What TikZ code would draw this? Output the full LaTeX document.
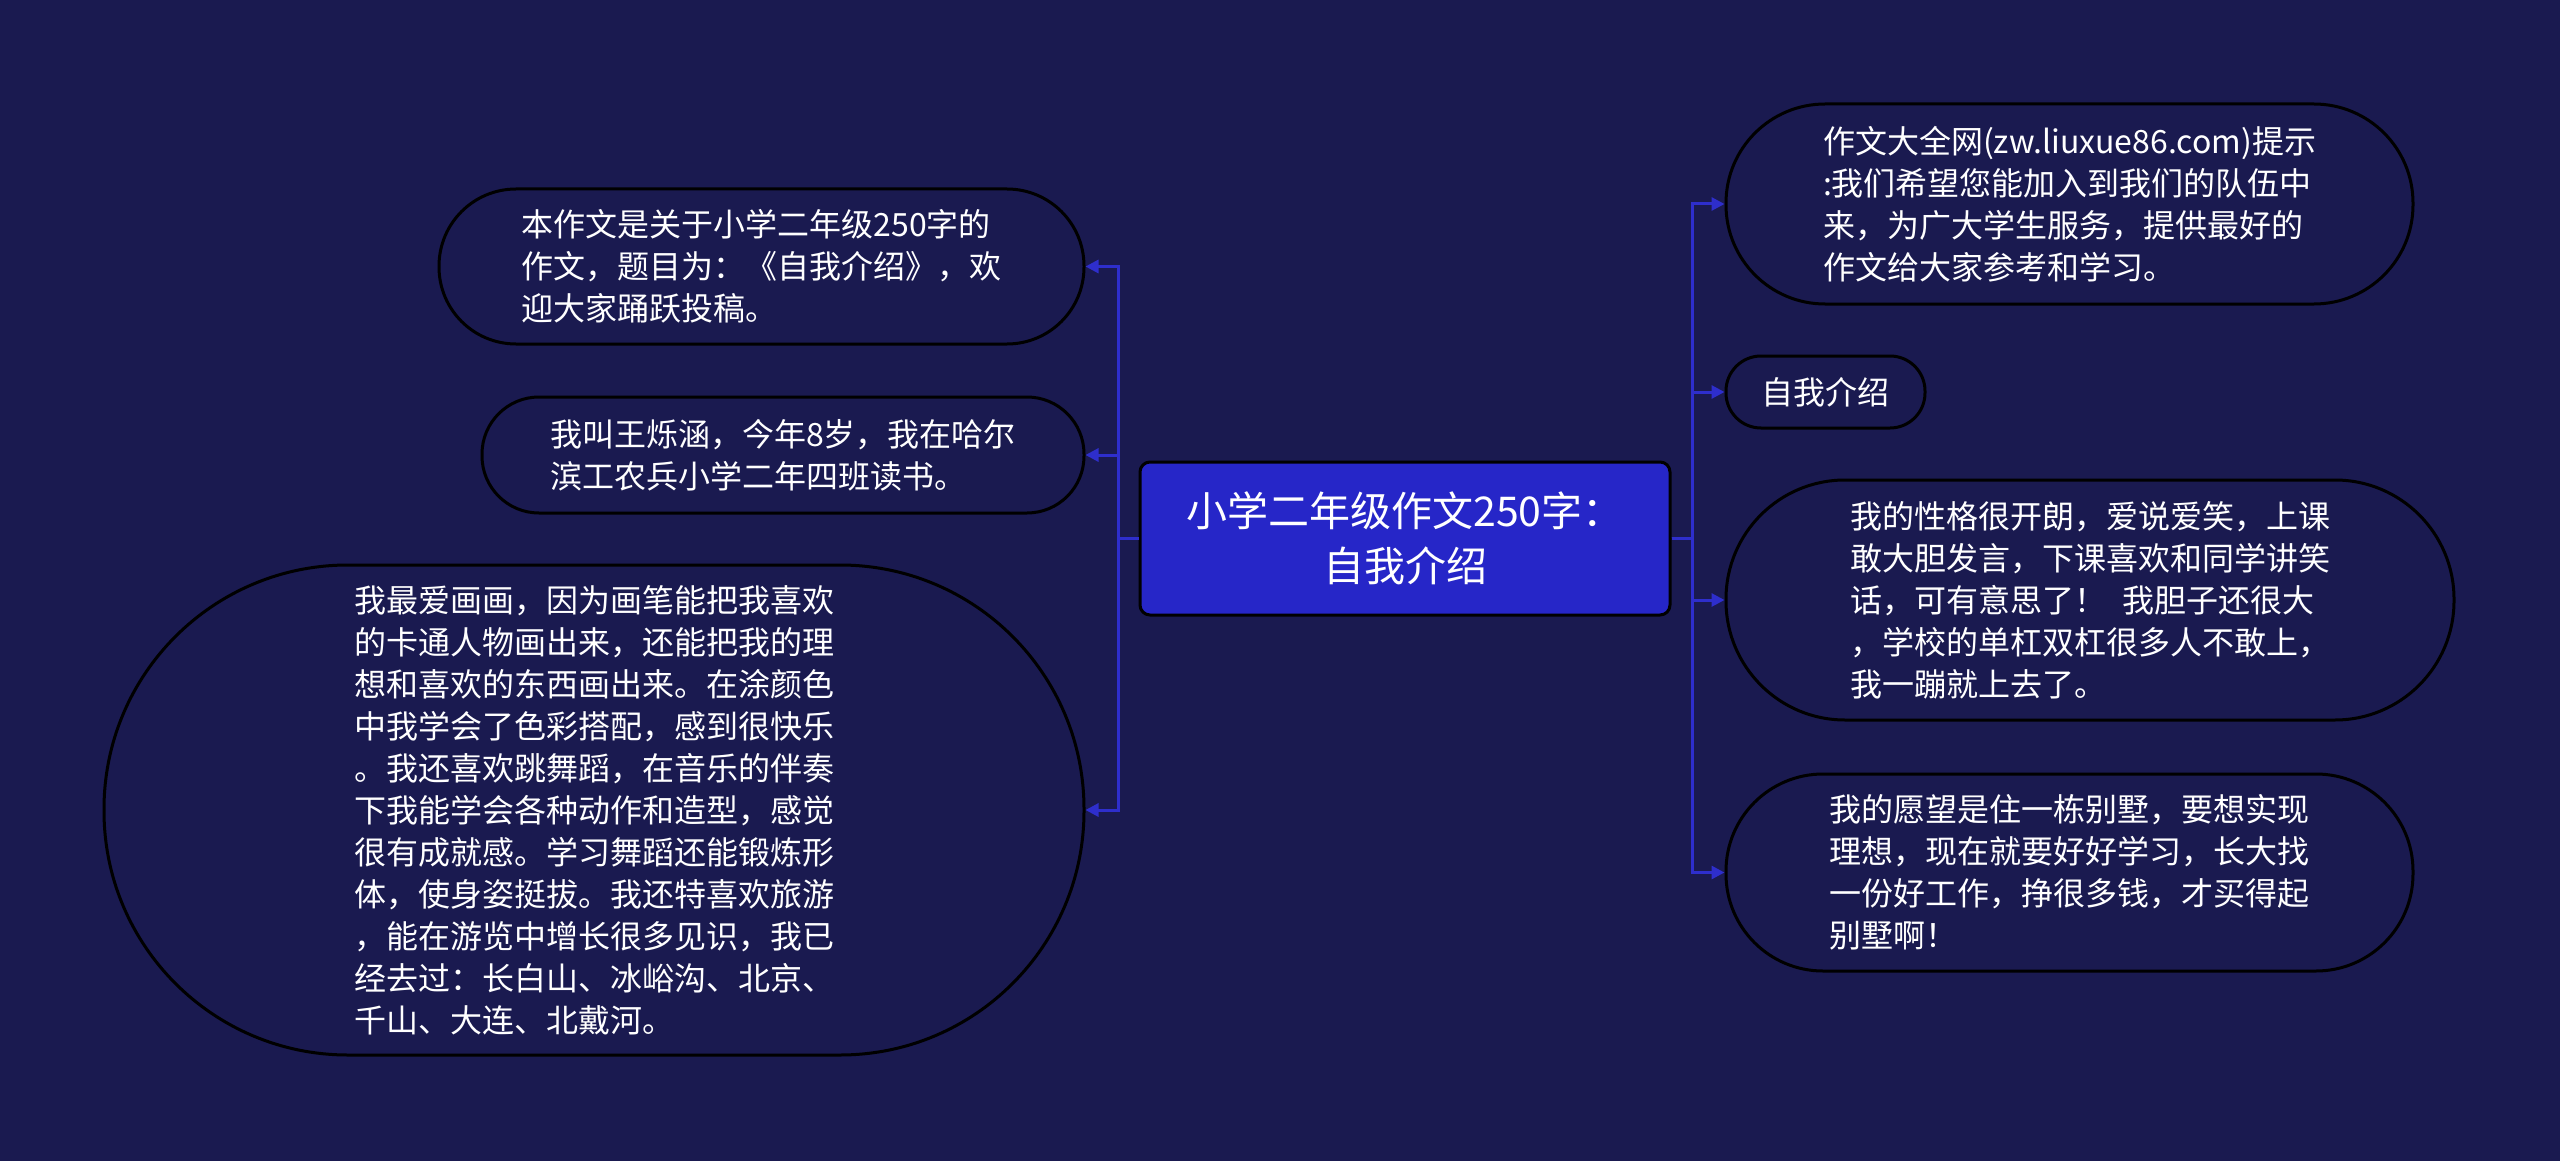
\documentclass[tikz,border=0pt]{standalone}
\usepackage{fontspec}
\setmainfont{Noto Sans CJK SC}
\usetikzlibrary{arrows.meta}
\definecolor{bg}{HTML}{1A1A50}
\definecolor{cfill}{HTML}{2626C8}
\definecolor{conn}{HTML}{2E2ECC}
\begin{document}
\begin{tikzpicture}[x=1pt,y=-1pt,
  topic/.style={draw=black, line width=3pt, fill=bg, text=white, align=left,
    font=\fontsize{32}{42}\selectfont, inner sep=0pt},
  root/.style={draw=black, line width=3pt, fill=cfill, text=white, align=center,
    font=\fontsize{41}{55}\selectfont, inner sep=0pt, rounded corners=10pt},
  link/.style={draw=conn, line width=3pt, -{Triangle[length=13pt,width=13pt]}},
  trunk/.style={draw=conn, line width=3pt}]
\fill[bg] (0,0) rectangle (2560,1161);

\node[root, minimum width=530pt, minimum height=153pt] (C) at (1405,538.5)
  {小学二年级作文250字：\\自我介绍};

\node[topic, minimum width=645pt, minimum height=155pt, rounded corners=77pt] (L1) at (761.5,266.5)
  {本作文是关于小学二年级250字的\\作文，题目为：《自我介绍》，欢\\迎大家踊跃投稿。};
\node[topic, minimum width=602pt, minimum height=116pt, rounded corners=57pt] (L2) at (783,455)
  {我叫王烁涵，今年8岁，我在哈尔\\滨工农兵小学二年四班读书。};
\node[topic, minimum width=980pt, minimum height=490pt, rounded corners=244pt] (L3) at (594,810)
  {我最爱画画，因为画笔能把我喜欢\\的卡通人物画出来，还能把我的理\\想和喜欢的东西画出来。在涂颜色\\中我学会了色彩搭配，感到很快乐\\。我还喜欢跳舞蹈，在音乐的伴奏\\下我能学会各种动作和造型，感觉\\很有成就感。学习舞蹈还能锻炼形\\体，使身姿挺拔。我还特喜欢旅游\\，能在游览中增长很多见识，我已\\经去过：长白山、冰峪沟、北京、\\千山、大连、北戴河。};

\node[topic, minimum width=687pt, minimum height=200pt, rounded corners=99pt] (R1) at (2069.5,204)
  {作文大全网(zw.liuxue86.com)提示\\:我们希望您能加入到我们的队伍中\\来，为广大学生服务，提供最好的\\作文给大家参考和学习。};
\node[topic, minimum width=199pt, minimum height=72pt, rounded corners=35pt] (R2) at (1825.5,392)
  {自我介绍};
\node[topic, minimum width=728pt, minimum height=240pt, rounded corners=119pt] (R3) at (2090,600)
  {我的性格很开朗，爱说爱笑，上课\\敢大胆发言，下课喜欢和同学讲笑\\话，可有意思了！\hspace{0.5em}我胆子还很大\\，学校的单杠双杠很多人不敢上，\\我一蹦就上去了。};
\node[topic, minimum width=687pt, minimum height=197pt, rounded corners=97pt] (R4) at (2069.5,872.5)
  {我的愿望是住一栋别墅，要想实现\\理想，现在就要好好学习，长大找\\一份好工作，挣很多钱，才买得起\\别墅啊！};

\draw[link] (C.west) -- ++(-20,0) |- (L1.east);
\draw[link] (C.west) -- ++(-20,0) |- (L2.east);
\draw[link] (C.west) -- ++(-20,0) |- (L3.east);
\draw[link] (C.east) -- ++(21,0) |- (R1.west);
\draw[link] (C.east) -- ++(21,0) |- (R2.west);
\draw[link] (C.east) -- ++(21,0) |- (R3.west);
\draw[link] (C.east) -- ++(21,0) |- (R4.west);
\end{tikzpicture}
\end{document}
